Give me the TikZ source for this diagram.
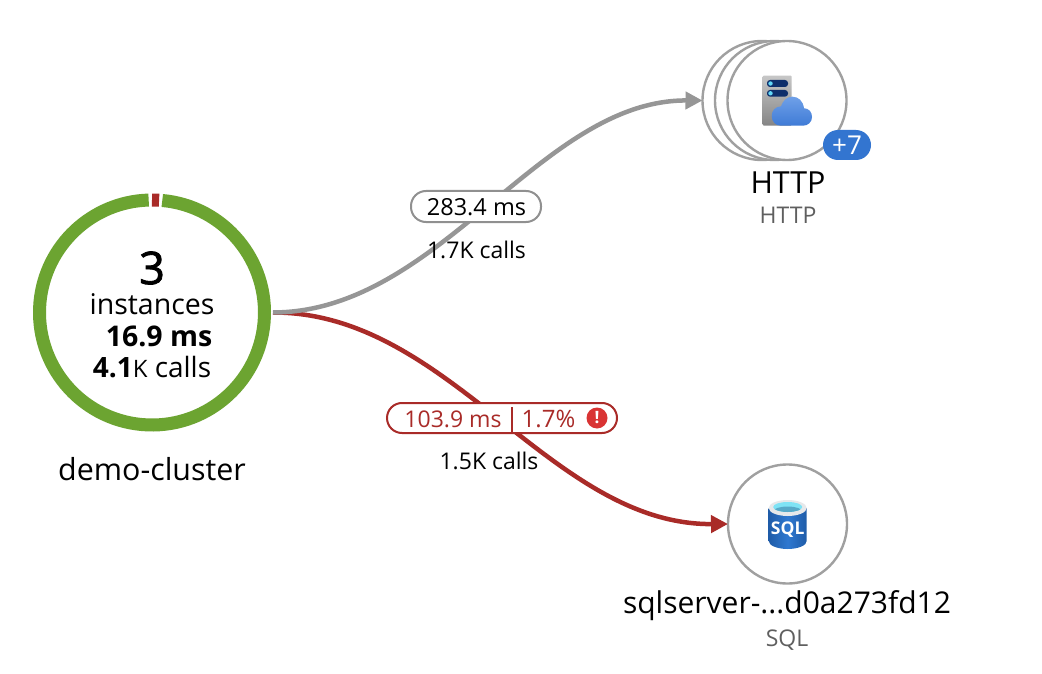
\documentclass[tikz,border=0pt]{standalone}
\usepackage{fontspec}
\setmainfont{Open Sans}
\newfontfamily\heavyfont[FakeBold=1.8]{Open Sans}
\usetikzlibrary{arrows.meta,shadings}
\definecolor{ringgreen}{HTML}{6CA431}
\definecolor{edgered}{HTML}{A92B28}
\definecolor{edgegray}{HTML}{969696}
\definecolor{nodegray}{HTML}{A0A0A0}
\definecolor{badgeblue}{HTML}{3375D0}
\definecolor{subgray}{HTML}{5F5F5F}
\definecolor{warnred}{HTML}{D93434}
\definecolor{cloudtop}{HTML}{6FA0E8}
\definecolor{cloudbot}{HTML}{3F7BD6}
\definecolor{slotnavy}{HTML}{0F2F6B}
\definecolor{slotcyan}{HTML}{62D8F8}
\definecolor{dbedge}{HTML}{1F5CA8}
\definecolor{dbmid}{HTML}{2F78D0}
\definecolor{dbrim}{HTML}{E6E8EA}
\definecolor{dbcyan}{HTML}{7FE3F5}
\definecolor{dbdeep}{HTML}{57A9C8}
\newcommand{\fs}[1]{\fontsize{#1}{#1}\selectfont}
\tikzset{
  x=1pt,y=-1pt,
  txt/.style={inner sep=0,outer sep=0,text=black,anchor=center},
  service/.style={circle,draw=nodegray,line width=2.4pt,fill=white,minimum size=119pt,inner sep=0,outer sep=0},
  anchorring/.style={circle,minimum size=242pt,inner sep=0,outer sep=0},
  edge gray/.style={draw=edgegray,line width=4.5pt,-{Triangle[length=17pt,width=17pt]}},
  edge red/.style={draw=edgered,line width=4.5pt,-{Triangle[length=17pt,width=17pt]}},
  pill/.style={rounded corners=15pt,fill=white,line width=2pt},
  ringband/.style={line width=13pt}
}
\begin{document}
\begin{tikzpicture}
\useasboundingbox (0,0) rectangle (1042,674);
\fill[white] (0,0) rectangle (1042,674);
% cluster ring
\node[anchorring] (cluster) at (152,312.5) {};
\draw[ringband,ringgreen] (152,312.5) ++(84.75:112.5pt) arc[start angle=84.75,end angle=-268.3,radius=112.5pt];
\draw[ringband,edgered] (152,312.5) ++(90:112.5pt) arc[start angle=90,end angle=86.4,radius=112.5pt];
\node[txt] (n3) at (152,268) {\fs{45}\heavyfont 3};
\node[txt] (ninst) at (152,304) {\fs{28.5}instances};
\node[txt] (nms) at (159,336) {\fs{28.5}\bfseries 16.9 ms};
\node[txt] (ncalls) at (152,367) {\fs{28}\textbf{4.1}{\fs{24}K} calls};
\node[txt] (nname) at (152,469) {\fs{30.4}demo-cluster};
% services
\node[service] (http3) at (762,100.5) {};
\node[service] (http2) at (774.5,100.5) {};
\node[service] (http1) at (787,100.5) {};
\node[service] (sql) at (787.5,524) {};
% edges
\draw[edge red] (cluster.east) .. controls (450,312) and (550,525) .. (sql.west);
\draw[edge gray] (cluster.east) .. controls (440,312) and (540,100) .. (http3.west);
% server icon
\shade[top color=black!22,bottom color=black!48,rounded corners=1pt] (762.7,75.7) rectangle (791.7,125.7);
\fill[slotnavy,rounded corners=3pt] (767,80) rectangle (788,87);
\fill[slotnavy,rounded corners=3pt] (767,90) rectangle (788,96.7);
\fill[slotcyan] (770.5,83.5) circle (2.2pt);
\fill[slotcyan] (770.5,93.3) circle (2.2pt);
\shade[top color=cloudtop,bottom color=cloudbot]
  (781,125.7) .. controls (775.5,125.7) and (771.7,121.5) .. (771.7,116)
  .. controls (771.7,110.5) and (775.5,106.5) .. (781,106.3)
  .. controls (783,100.5) and (787,96.7) .. (792.5,96.7)
  .. controls (798.5,96.7) and (803,101) .. (804,108.2)
  .. controls (809,108.5) and (812,112) .. (812,117)
  .. controls (812,122) and (808,125.7) .. (803,125.7) -- cycle;
% badge
\node[rounded corners=15pt,fill=badgeblue,minimum width=48pt,minimum height=30pt,inner sep=0,text=white] (badge) at (847,145) {\fs{26}+7};
% sql icon
\shade[left color=dbedge,right color=dbedge,middle color=dbmid]
  (768.7,508) -- (768.7,541) arc[start angle=180,end angle=360,x radius=19pt,y radius=8pt] -- (806.7,508) -- cycle;
\fill[dbrim] (787.7,508) ellipse [x radius=19pt,y radius=8pt];
\fill[dbcyan] (787.7,507) ellipse [x radius=14.5pt,y radius=5pt];
\begin{scope}
  \clip (787.7,507) ellipse [x radius=14.5pt,y radius=5pt];
  \fill[dbdeep] (787.7,511.5) ellipse [x radius=14.5pt,y radius=5pt];
\end{scope}
\node[inner sep=0,text=white] (sqltext) at (787.7,530) {\fs{17.5}\bfseries SQL};
% labels
\node[txt] (l1) at (788,183) {\fs{30.4}HTTP};
\node[txt,text=subgray] (l2) at (788,215) {\fs{23}HTTP};
\node[txt] (l3) at (787,606) {\fs{30}sqlserver-...d0a273fd12};
\node[txt,text=subgray] (l4) at (787,640) {\fs{23}SQL};
% pills
\draw[pill,draw=nodegray!90!black] (411,191) rectangle (541,222);
\node[txt] (p1) at (476.5,207) {\fs{23.5}283.4 ms};
\node[txt] (c1) at (476.5,250) {\fs{23}1.7K calls};
\draw[pill,draw=edgered] (387,403) rectangle (617,433);
\node[txt,text=edgered] (p2a) at (453,419) {\fs{23}103.9 ms};
\draw[edgered,line width=1.6pt] (512,407) -- (512,432);
\node[txt,text=edgered] (p2b) at (548.5,419) {\fs{24}1.7\%};
\node[circle,fill=warnred,minimum size=21pt,inner sep=0,text=white] (warn) at (597,418) {\fs{17}\bfseries !};
\node[txt] (c2) at (489,461) {\fs{23}1.5K calls};
\end{tikzpicture}
\end{document}
